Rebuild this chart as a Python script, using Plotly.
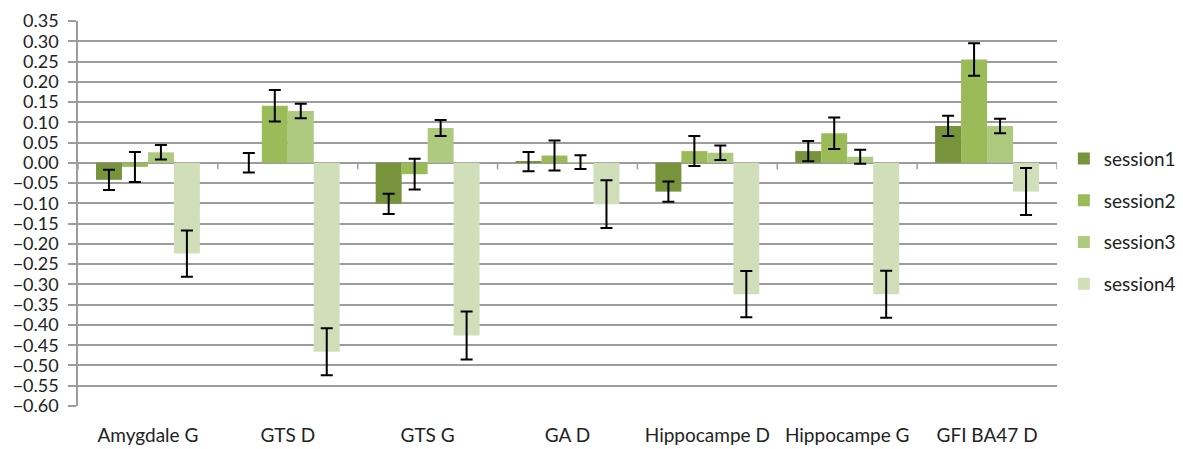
import plotly.graph_objects as go

categories = ["Amygdale G", "GTS D", "GTS G", "GA D", "Hippocampe D", "Hippocampe G", "GFI BA47 D"]
series_names = ["session1", "session2", "session3", "session4"]

session1 = [-0.042, 0.000, -0.101, 0.003, -0.071, 0.029, 0.091]
session2 = [-0.010, 0.141, -0.028, 0.018, 0.029, 0.073, 0.255]
session3 = [0.026, 0.128, 0.086, 0.002, 0.025, 0.015, 0.091]
session4 = [-0.224, -0.466, -0.426, -0.102, -0.324, -0.324, -0.071]

err1 = [0.025, 0.024, 0.025, 0.024, 0.025, 0.025, 0.025]
err2 = [0.037, 0.039, 0.038, 0.037, 0.037, 0.039, 0.040]
err3 = [0.018, 0.018, 0.020, 0.017, 0.018, 0.017, 0.018]
err4 = [0.057, 0.058, 0.059, 0.059, 0.057, 0.058, 0.058]

colors = ["#77933C", "#9BBB59", "#AECA7F", "#D0DFBA"]

y_min, y_max, y_step = -0.60, 0.35, 0.05

values = [session1, session2, session3, session4]
errors = [err1, err2, err3, err4]

FONT = "Lato, 'Open Sans', sans-serif"
GRID = "#9C9C9C"
TXT = "#222222"

fig = go.Figure()
for name, vals, errs, col in zip(series_names, values, errors, colors):
    fig.add_trace(go.Bar(
        name=name, x=categories, y=vals,
        marker=dict(color=col, line=dict(width=0)),
        error_y=dict(type="data", array=errs, visible=True,
                     color="black", thickness=2, width=6),
        legendgroup=name,
    ))

# small category tick marks on the zero line
for i in range(len(categories) + 1):
    fig.add_shape(type="line", xref="x", yref="y",
                  x0=i - 0.5, x1=i - 0.5, y0=0, y1=-0.016,
                  line=dict(color=GRID, width=1.5), layer="below")

fig.update_layout(
    width=1183, height=449,
    margin=dict(l=78, r=126, t=21, b=43, autoexpand=False),
    paper_bgcolor="white", plot_bgcolor="white",
    barmode="group", bargap=0.257, bargroupgap=0,
    font=dict(family=FONT, size=19, color=TXT),
    showlegend=True,
    legend=dict(x=1.007, y=0.48, xanchor="left", yanchor="middle",
                font=dict(family=FONT, size=19, color=TXT),
                tracegroupgap=14, traceorder="grouped",
                itemwidth=30, bgcolor="rgba(0,0,0,0)"),
    xaxis=dict(showgrid=False, showline=False, zeroline=False,
               ticks="", ticklabelstandoff=16, automargin=False,
               tickfont=dict(family=FONT, size=19, color=TXT),
               range=[-0.5, len(categories) - 0.5]),
    yaxis=dict(range=[y_min, y_max], dtick=y_step, tick0=0, automargin=False,
               tickformat=".2f", showgrid=True, gridcolor=GRID, gridwidth=1.5,
               zeroline=True, zerolinecolor=GRID, zerolinewidth=1.5,
               showline=True, linecolor=GRID, linewidth=1.5,
               ticks="outside", ticklen=8, tickcolor=GRID, tickwidth=1.5,
               ticklabelstandoff=6,
               tickfont=dict(family=FONT, size=18, color=TXT)),
)

fig.write_html("out.html",
               config={"displayModeBar": False},
               post_script="document.body.style.margin='0';document.body.style.overflow='hidden';")
